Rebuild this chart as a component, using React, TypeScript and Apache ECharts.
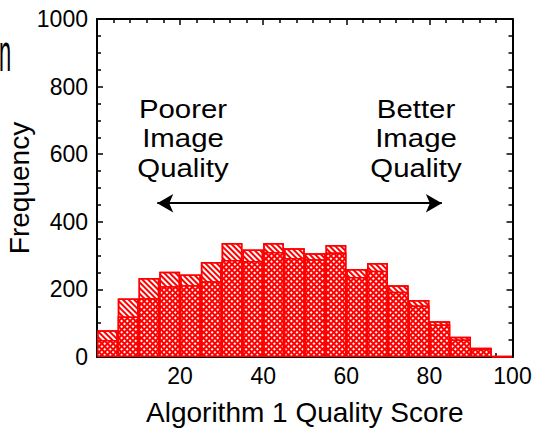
import React, { useEffect, useRef } from 'react';
import * as echarts from 'echarts';

// Histogram bins (centre of each 5-point bin)
const binCenters = [2.5, 7.5, 12.5, 17.5, 22.5, 27.5, 32.5, 37.5, 42.5, 47.5, 52.5, 57.5, 62.5, 67.5, 72.5, 77.5, 82.5, 87.5, 92.5, 97.5];
// Taller, diagonally hatched distribution
const outerCounts = [79, 173, 234, 252, 244, 281, 337, 318, 337, 322, 307, 331, 260, 278, 212, 169, 106, 60, 27, 3];
// Shorter, cross-hatched distribution drawn in front
const innerCounts = [50, 120, 174, 209, 212, 224, 287, 284, 311, 293, 289, 309, 237, 255, 193, 152, 96, 52, 25, 2];

const xTitle = 'Algorithm 1 Quality Score';
const yTitle = 'Frequency';
const leftNote = ['Poorer', 'Image', 'Quality'];
const rightNote = ['Better', 'Image', 'Quality'];
const arrowFrom = [14.5, 455];
const arrowTo = [83, 455];

const FONT = '"Liberation Sans", Arial, Helvetica, sans-serif';
const RED = '#ff0000';

export default function App() {
  const ref = useRef<HTMLDivElement>(null);

  useEffect(() => {
    if (!ref.current) return;
    const chart = echarts.init(ref.current, undefined, { renderer: 'svg' });

    const axisLine = { show: true, onZero: false, lineStyle: { color: '#000', width: 2 } };
    const tick = { show: true, inside: true, length: 6, lineStyle: { color: '#000', width: 1.5 } };
    const labelStyle = { color: '#000', fontSize: 23, fontFamily: FONT, formatter: (v: number) => String(v) };

    const xBase = { type: 'value', min: 0, max: 100, interval: 20, splitLine: { show: false }, axisLine, axisTick: tick,
      minorTick: { show: true, splitNumber: 5, length: 4, lineStyle: { color: '#000', width: 1.5 } } };
    const yBase = { type: 'value', min: 0, max: 1000, interval: 200, splitLine: { show: false }, axisLine, axisTick: tick,
      minorTick: { show: true, splitNumber: 4, length: 4, lineStyle: { color: '#000', width: 1.5 } } };

    const noteText = (lines: string[], cx: number) =>
      lines.map((t, i) => ({
        type: 'text', x: cx, y: 109 + i * 29.5, scaleX: 1.13, silent: true,
        style: { text: t, fill: '#000', fontSize: 26, fontFamily: FONT, textAlign: 'center', textVerticalAlign: 'middle', verticalAlign: 'middle' },
      }));

    chart.setOption({
      animation: false,
      backgroundColor: '#fff',
      grid: { left: 97, right: 22.5, top: 19, bottom: 76, containLabel: false, outerBoundsMode: 'none' },
      xAxis: [
        { ...xBase, position: 'bottom',
          axisLabel: { ...labelStyle, margin: 7, showMinLabel: false },
          name: xTitle, nameLocation: 'middle', nameGap: 41, nameMoveOverlap: false,
          nameTextStyle: { color: '#000', fontSize: 28, fontFamily: FONT } },
        { ...xBase, position: 'top', axisLabel: { show: false } },
      ],
      yAxis: [
        { ...yBase, position: 'left',
          axisLabel: { ...labelStyle, margin: 9 },
          name: yTitle, nameLocation: 'middle', nameGap: 64, nameRotate: 90, nameMoveOverlap: false,
          nameTextStyle: { color: '#000', fontSize: 28, fontFamily: FONT } },
        { ...yBase, position: 'right', axisLabel: { show: false } },
      ],
      graphic: [
        { type: 'text', x: -1, y: 53, scaleX: 0.42, silent: true,
          style: { text: 'n', fill: '#000', fontSize: 52, fontFamily: FONT, textAlign: 'left', textVerticalAlign: 'middle', verticalAlign: 'middle' } },
        ...noteText(leftNote, 183),
        ...noteText(rightNote, 416),
      ],
      series: [
        {
          name: 'All', type: 'bar', xAxisIndex: 0, yAxisIndex: 0,
          barWidth: '100%', barGap: '-100%',
          data: binCenters.map((c, i) => [c, outerCounts[i]]),
          itemStyle: {
            color: '#ffffff', borderColor: RED, borderWidth: 1.5,
            decal: { symbol: 'rect', symbolSize: 1, color: RED, dashArrayX: [1, 0], dashArrayY: [1.5, 1.6], rotation: Math.PI / 4 },
          },
          markLine: {
            silent: true, symbol: ['arrow', 'arrow'], symbolSize: [14, 16],
            lineStyle: { color: '#000', width: 2, type: 'solid' }, label: { show: false },
            data: [[{ coord: arrowFrom }, { coord: arrowTo }]],
          },
        },
        {
          name: 'Subset', type: 'bar', xAxisIndex: 0, yAxisIndex: 0,
          barWidth: '100%', barGap: '-100%',
          data: binCenters.map((c, i) => [c, innerCounts[i]]),
          itemStyle: {
            color: RED, borderColor: RED, borderWidth: 1.5,
            decal: { symbol: 'rect', symbolSize: 1, color: '#ffffff', dashArrayX: [1.8, 1.2], dashArrayY: [1.8, 1.2], rotation: Math.PI / 4 },
          },
        },
      ],
    });

    return () => chart.dispose();
  }, []);

  return <div ref={ref} style={{ width: 535, height: 433, position: 'absolute', left: 0, top: 0 }} />;
}
